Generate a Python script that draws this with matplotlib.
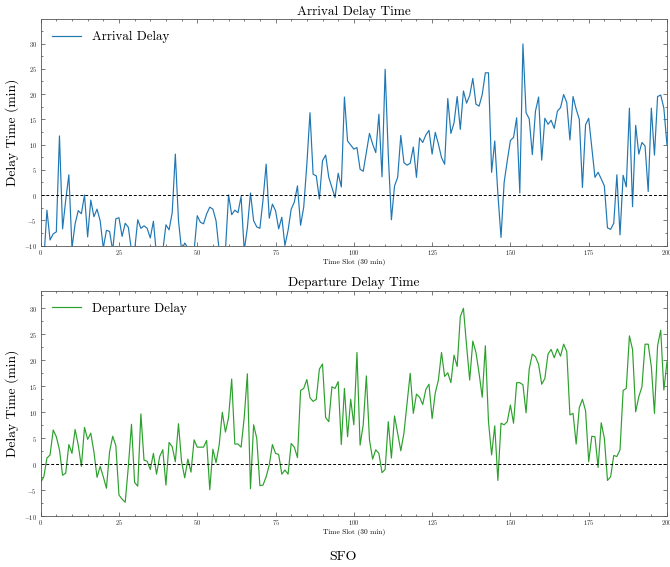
#   Imports    #
import numpy as np
import matplotlib
matplotlib.use("Agg")
import matplotlib.pyplot as plt
from matplotlib.ticker import MultipleLocator


##  Data   ##

time_slot = np.arange(201)

arrival_delay = [
    -12, -13, -3.0, -8.9, -7.7, -7.3, 11.7, -6.7, -1.0, 4.0,
    -10.5, -5.7, -3.1, -3.7, 0.0, -8.3, -1.0, -4.3, -2.8, -5.1,
    -10.5, -7.0, -7.2, -11, -4.7, -4.5, -8.2, -5.6, -6.4, -11,
    -11, -4.9, -6.6, -6.1, -6.6, -8.5, -5.2, -12, -12, -11,
    -5.9, -6.9, -3.5, 8.1, -5.0, -11, -9.5, -10.5, -11, -11,
    -4.1, -5.4, -5.7, -3.75, -2.4, -2.8, -5.1, -11, -12, -11,
    0.0, -3.9, -3.0, -3.5, -0.3, -11, -6.5, 0.4, -5.1, -6.3,
    -6.6, -1.0, 6.1, -4.6, -1.8, -3.1, -6.7, -4.4, -10, -7.0,
    -2.8, -1.4, 1.8, -6.0, -2.4, 6.1, 16.3, 4.1, 3.8, -0.8,
    6.8, 7.9, 3.5, 1.5, -0.5, 4.3, 1.6, 19.4, 10.7, 9.9,
    9.1, 9.4, 5.1, 4.7, 8.4, 12.2, 10.1, 8.4, 16.0, 3.6,
    24.9, 8.0, -4.9, 1.8, 3.5, 11.8, 6.4, 5.9, 6.3, 9.5,
    3.5, 11.3, 10.4, 11.9, 12.8, 8.1, 12.4, 10.1, 7.4, 6.1,
    19.1, 12.2, 14.3, 19.5, 13.0, 20.6, 18.2, 19.7, 23.1, 18.0,
    17.6, 19.9, 24.2, 24.2, 4.5, 10.7, 0.2, -8.4, 2.5, 6.8,
    10.8, 11.4, 15.3, 0.4, 29.9, 16.3, 15.1, 8.0, 16.6, 19.4,
    6.9, 15.2, 14.0, 14.8, 13.2, 16.6, 17.3, 19.9, 18.3, 10.9,
    19.5, 17.0, 15.0, 1.5, 13.9, 15.2, 9.4, 3.5, 4.5, 3.2,
    1.8, -6.5, -6.8, -5.6, 4.0, -7.9, 3.9, 1.6, 17.2, -2.3,
    13.8, 8.1, 10.4, 9.7, 0.7, 17.2, 7.9, 19.5, 19.8, 17.2,
    9.9,
]

departure_delay = [
    -3.5, -2.4, 1.2, 1.8, 6.6, 5.3, 2.8, -2.1, -1.7, 3.8,
    2.1, 6.7, 3.7, -0.4, 7.1, 4.8, 6.0, 2.4, -2.5, -0.4,
    -2.4, -4.6, 2.4, 5.4, 3.6, -5.9, -6.7, -7.3, -0.4, 7.7,
    -3.5, -4.2, 9.7, 0.8, 0.6, -1.0, 2.1, -1.9, 1.5, 2.8,
    -4.0, 4.2, 3.4, 0.5, 7.8, 0.5, -2.6, 1.0, -1.5, 4.7,
    3.3, 3.3, 3.3, 4.6, -4.9, 2.9, 0.3, 3.7, 10.0, 6.2,
    9.0, 16.4, 3.9, 3.9, 3.3, 9.0, 17.4, -4.7, 7.6, 5.0,
    -4.1, -4.0, -2.4, -0.1, 3.8, 2.1, 1.9, -1.9, -1.1, -1.9,
    4.0, 3.3, 1.3, 14.2, 14.6, 16.3, 12.8, 12.1, 12.5, 18.3,
    19.3, 9.0, 8.2, 14.9, 14.6, 15.9, 3.8, 14.6, 5.3, 12.5,
    7.6, 21.5, 3.7, 7.6, 17.0, 4.7, 1.0, 2.8, 2.1, -1.6,
    -1.0, 8.2, 1.2, 9.3, 6.0, 2.6, 6.0, 11.7, 17.5, 9.8,
    13.5, 12.9, 11.5, 14.4, 15.4, 8.8, 13.7, 16.2, 21.5, 16.9,
    17.6, 15.7, 21.0, 18.8, 28.4, 30.0, 22.8, 16.2, 23.7, 21.5,
    17.5, 12.9, 22.8, 8.2, 1.8, 7.4, -3.1, 7.9, 7.6, 8.2,
    11.4, 7.9, 15.7, 15.7, 15.3, 9.9, 18.3, 21.2, 20.7, 19.2,
    15.4, 16.5, 21.2, 22.1, 20.5, 22.2, 20.8, 23.1, 21.7, 9.5,
    9.8, 3.9, 10.9, 12.5, 10.3, 0.5, 5.4, 5.3, -0.6, 8.0,
    5.0, -3.1, -2.4, 1.7, 1.5, 2.8, 14.2, 14.6, 24.7, 22.1,
    10.1, 13.0, 14.9, 23.1, 23.1, 18.8, 9.8, 22.8, 25.8, 14.3,
    19.7,
]

titles = ["Arrival Delay Time", "Departure Delay Time"]
labels = ["Arrival Delay", "Departure Delay"]
airport = "SFO"


#   Style (Computer Modern look)   #
plt.rcParams["font.family"] = "serif"
plt.rcParams["font.serif"] = ["cmr10"]
plt.rcParams["mathtext.fontset"] = "cm"
plt.rcParams["axes.unicode_minus"] = False
plt.rcParams["axes.formatter.use_mathtext"] = True


#   Create the figure   #
fig = plt.figure(figsize=(6.7, 5.67), dpi=100)
ax_top = fig.add_axes([0.0607, 0.567, 0.9348, 0.399])
ax_bot = fig.add_axes([0.0607, 0.0894, 0.9348, 0.398])

series = [arrival_delay, departure_delay]
colors = ["#1f77b4", "#2ca02c"]
ylims = [(-10, 34.8), (-10, 33.4)]

for ax, values, title, label, color, ylim in zip([ax_top, ax_bot], series, titles, labels, colors, ylims):

    ax.plot(time_slot, values, color=color, lw=0.85, label=label)
    ax.axhline(0, color="black", ls="--", lw=0.7, dashes=(3, 2))

    ax.set_xlim(0, 200)
    ax.set_ylim(*ylim)
    ax.xaxis.set_major_locator(MultipleLocator(25))
    ax.xaxis.set_minor_locator(MultipleLocator(5))
    ax.yaxis.set_major_locator(MultipleLocator(5))
    ax.yaxis.set_minor_locator(MultipleLocator(2.5))

    ax.tick_params(which="both", direction="in", top=True, right=True, labelsize=4.6, width=0.5, colors="#444444", labelcolor="#222222")
    ax.tick_params(which="major", length=3)
    ax.tick_params(which="minor", length=1.5)
    ax.tick_params(axis="x", pad=1.5)
    ax.tick_params(axis="y", pad=2.5)
    for spine in ax.spines.values():
        spine.set_linewidth(0.6)
        spine.set_color("#555555")

    ax.set_title(title, fontsize=9.6, pad=3)
    ax.set_xlabel("Time Slot (30 min)", fontsize=5.3, labelpad=1.5)
    ax.set_ylabel("Delay Time (min)", fontsize=9.8, labelpad=4)
    ax.legend(loc="upper left", frameon=False, fontsize=9.4, handlelength=2.2)

fig.text(0.512, 1 - 557 / 567, airport, ha="center", va="center", fontsize=10)

fig.savefig("out.png", dpi=100)
